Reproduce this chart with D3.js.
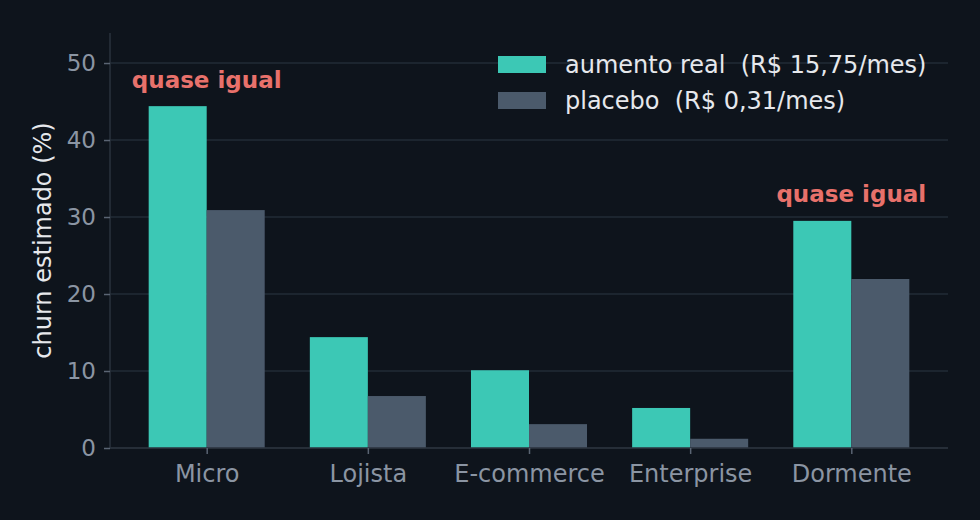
<!DOCTYPE html>
<html>
<head>
<meta charset="utf-8">
<script src="https://cdn.jsdelivr.net/npm/d3@7"></script>
<style>
  html, body { margin: 0; padding: 0; background: #0e141c; }
  svg { display: block; font-family: "DejaVu Sans", sans-serif; }
  text { white-space: pre; }
</style>
</head>
<body>
<svg id="chart" width="980" height="520"></svg>
<script>
// segments and churn values (%)
const categories = ["Micro", "Lojista", "E-commerce", "Enterprise", "Dormente"];
const realValues = [44.4, 14.4, 10.1, 5.2, 29.5];
const placeboValues = [30.9, 6.75, 3.1, 1.2, 21.95];
const seriesNames = ["aumento real  (R$ 15,75/mes)", "placebo  (R$ 0,31/mes)"];
const yTicks = [0, 10, 20, 30, 40, 50];
const notes = [
    { cat: "Micro", y: 47.8, text: "quase igual" },
    { cat: "Dormente", y: 33.0, text: "quase igual" }
];

const colors = ["#3cc8b5", "#4b5a6b"];
const W = 980, H = 520;
const margin = { top: 33, right: 32, bottom: 72, left: 110 };
const svg = d3.select("#chart");

svg.append("rect").attr("width", W).attr("height", H).attr("fill", "#0e141c");

const x = d3.scaleLinear()
    .domain([-0.6, categories.length - 0.4])
    .range([margin.left, W - margin.right]);

const y = d3.scaleLinear()
    .domain([0, 53.9])
    .range([H - margin.bottom, margin.top]);

const barW = x(0.36) - x(0);

// grid
svg.append("g")
    .selectAll("line")
    .data(yTicks)
    .join("line")
    .attr("x1", margin.left)
    .attr("x2", W - margin.right)
    .attr("y1", d => y(d))
    .attr("y2", d => y(d))
    .attr("stroke", "#222b36")
    .attr("stroke-width", 1.5);

// bars
const series = [realValues, placeboValues];
series.forEach((vals, s) => {
    svg.append("g")
        .selectAll("rect")
        .data(vals)
        .join("rect")
        .attr("x", (d, i) => s === 0 ? x(i) - barW : x(i))
        .attr("y", d => y(d))
        .attr("width", barW)
        .attr("height", d => y(0) - y(d))
        .attr("fill", colors[s]);
});

// y axis
const yAxis = svg.append("g")
    .attr("transform", `translate(${margin.left},0)`)
    .call(d3.axisLeft(y).tickValues(yTicks).tickSize(6).tickPadding(8));
yAxis.select(".domain").attr("stroke", "#2a323d").attr("stroke-width", 1.5)
    .attr("d", `M0,${y(0)}V${margin.top}`);
yAxis.selectAll(".tick line").attr("stroke", "#5a6473").attr("stroke-width", 1.5);
yAxis.selectAll(".tick text").attr("fill", "#8b95a3").style("font-size", "23px")
    .style("font-family", "DejaVu Sans");

// x axis
const xAxis = svg.append("g")
    .attr("transform", `translate(0,${y(0)})`)
    .call(d3.axisBottom(x).tickValues(d3.range(categories.length))
        .tickFormat(i => categories[i]).tickSize(6).tickPadding(11));
xAxis.select(".domain").attr("stroke", "#2a323d").attr("stroke-width", 1.5)
    .attr("d", `M${margin.left},0H${W - margin.right}`);
xAxis.selectAll(".tick line").attr("stroke", "#5a6473").attr("stroke-width", 1.5);
xAxis.selectAll(".tick text").attr("fill", "#8b95a3").style("font-size", "24px")
    .style("font-family", "DejaVu Sans");

// y label
svg.append("text")
    .attr("transform", `translate(51,${(y(0) + margin.top) / 2}) rotate(-90)`)
    .attr("text-anchor", "middle")
    .attr("fill", "#e6e8ec")
    .style("font-size", "24px")
    .text("churn estimado (%)");

// annotations
svg.append("g")
    .selectAll("text")
    .data(notes)
    .join("text")
    .attr("x", d => x(categories.indexOf(d.cat)))
    .attr("y", d => y(d.y))
    .attr("dy", "0.35em")
    .attr("text-anchor", "middle")
    .attr("fill", "#e8716b")
    .style("font-size", "23px")
    .style("font-weight", "bold")
    .text(d => d.text);

// legend
const legend = svg.append("g").attr("transform", "translate(498,56)");
seriesNames.forEach((name, i) => {
    const row = legend.append("g").attr("transform", `translate(0,${i * 36})`);
    row.append("rect").attr("width", 48).attr("height", 17).attr("fill", colors[i]);
    row.append("text")
        .attr("x", 67).attr("y", 9).attr("dy", "0.35em")
        .attr("fill", "#e6e8ec")
        .style("font-size", "24px")
        .text(name);
});
</script>
</body>
</html>
